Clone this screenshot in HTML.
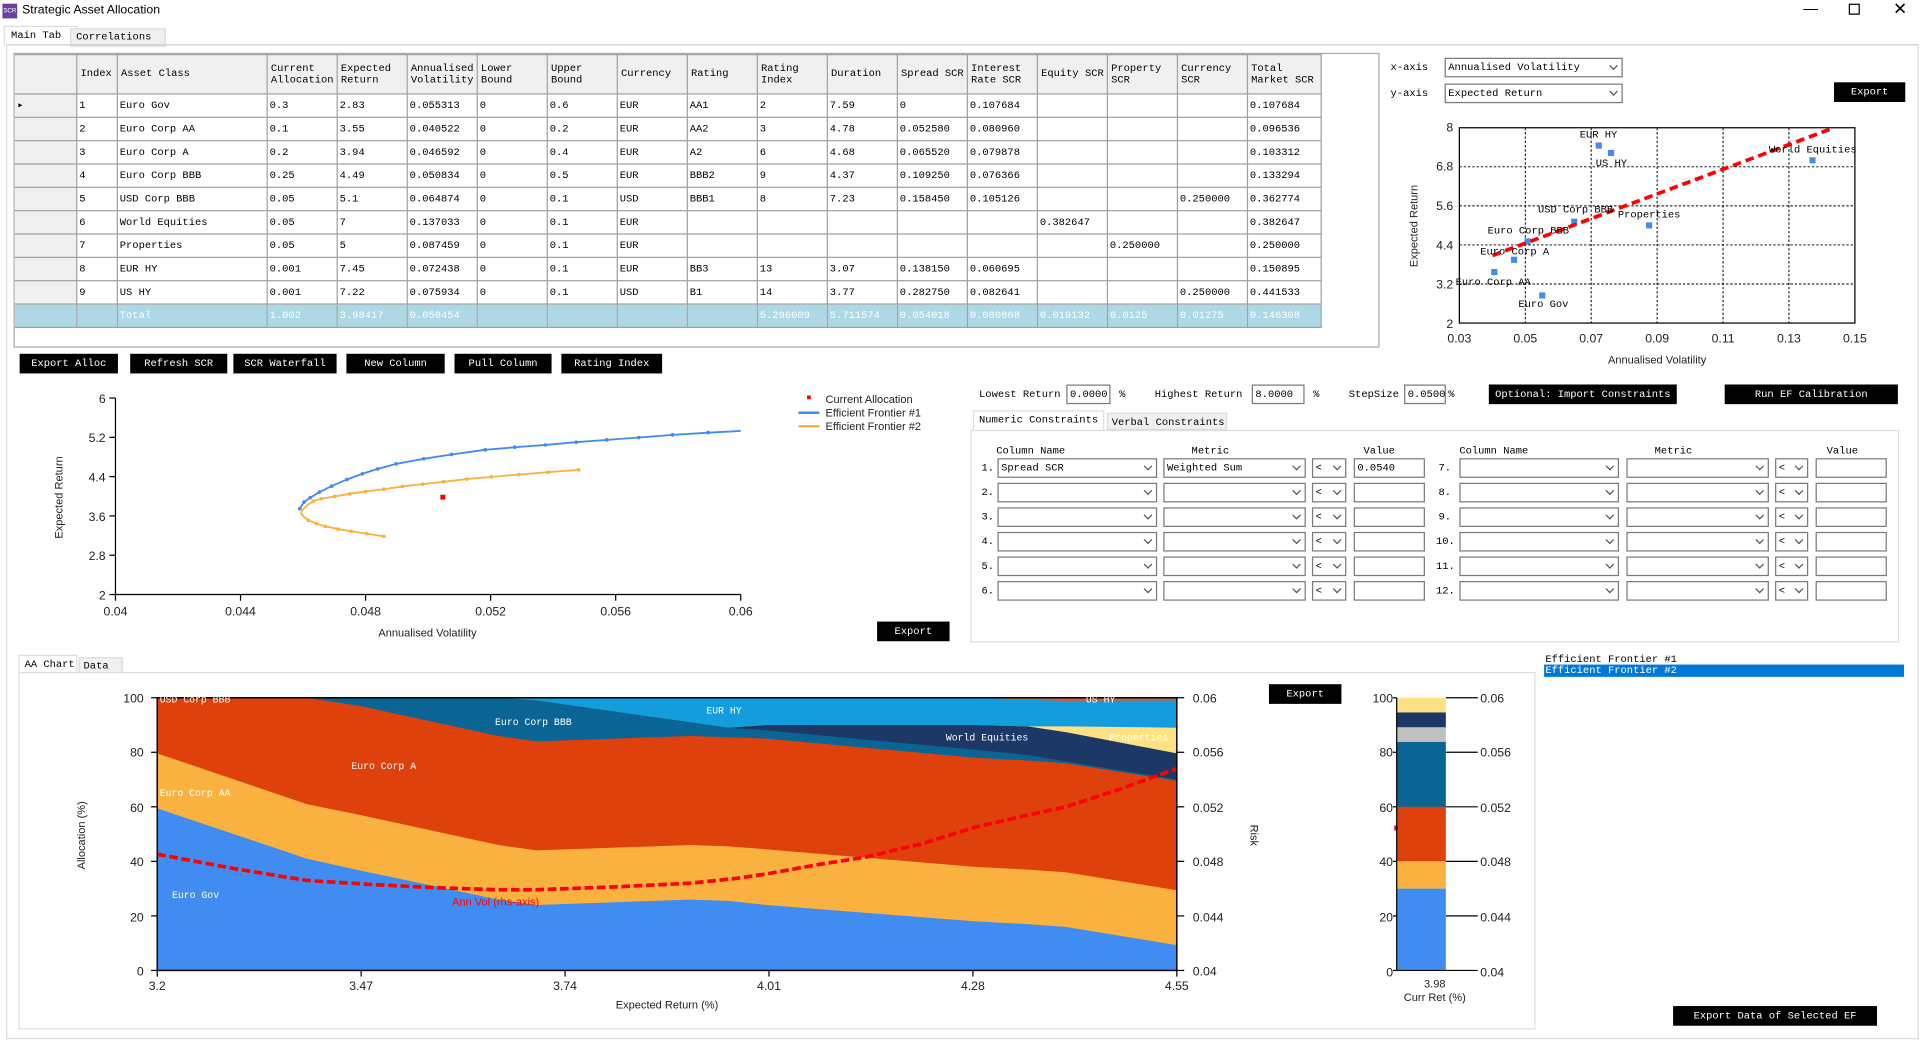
<!DOCTYPE html>
<html><head><meta charset="utf-8">
<style>
html,body{margin:0;padding:0;background:#fff;overflow:hidden;width:1920px;height:1040px}
#w{position:absolute;left:0;top:0;width:1563px;height:847px;transform:scale(1.22841);transform-origin:0 0;font-family:"Liberation Mono","Noto Sans CJK SC",monospace;font-size:8.5px;color:#000}
.a{position:absolute}
.btn{position:absolute;background:#000;color:#fff;text-align:center;font-size:8.5px;line-height:16px;height:16px}
.box{position:absolute;background:#fff;border:1px solid #7a7a7a;box-sizing:border-box;height:16px;line-height:14px;padding-left:2px;font-size:8.5px}
.dd::after{content:"";position:absolute;right:4px;top:3px;width:4px;height:4px;border-right:1px solid #555;border-bottom:1px solid #555;transform:rotate(45deg)}
table{border-collapse:collapse;table-layout:fixed}
td{border:1px solid #a0a0a0;padding:0 0 0 2px;height:18px;white-space:nowrap;overflow:hidden;font-size:8.5px}
tr.h td{background:#f0f0f0;height:31px;line-height:9px;padding-left:3px;white-space:normal;word-break:break-word}
tr.t td{background:#add8e6;color:#fff}
td.rh{background:#f0f0f0;border-left:none}
svg text{font-family:"Liberation Sans",sans-serif}
svg .s text{font-family:"Liberation Mono",monospace}
</style></head><body><div id="w">
<!-- title bar -->
<div class="a" style="left:2px;top:3px;width:12px;height:12px;background:#6b3fa0;color:#fff;font-size:5px;line-height:12px;text-align:center;font-family:'Liberation Sans',sans-serif">SCR</div>
<div class="a" style="left:18px;top:3px;font-family:'Liberation Sans',sans-serif;font-size:10px">Strategic Asset Allocation</div>
<div class="a" style="left:1468px;top:0px;font-family:'Liberation Sans',sans-serif;font-size:12px">&#8212;</div>
<div class="a" style="left:1505px;top:3px;width:7px;height:7px;border:1px solid #000"></div>
<div class="a" style="left:1541px;top:-1px;font-family:'Liberation Sans',sans-serif;font-size:14px">&#10005;</div>
<!-- tabs -->
<div class="a" style="left:3px;top:21px;width:53px;height:16px;border:1px solid #ddd;border-bottom:none;background:#fff;padding-left:5px;line-height:14px">Main Tab</div>
<div class="a" style="left:57px;top:23px;width:72px;height:13px;border:1px solid #ddd;background:#f0f0f0;padding-left:4px;line-height:13px">Correlations</div>
<div class="a" style="left:5px;top:36px;width:1555px;height:808px;border:1px solid #ddd;border-top:1px solid #ccc"></div>
<!-- table -->
<div class="a" style="left:11px;top:43px;width:1110px;height:238px;border:1px solid #aaa"></div>
<table class="a" style="left:12px;top:44px;width:1063px">
<colgroup><col style="width:50px"><col style="width:33px"><col style="width:122px"><col span="14" style="width:57px"><col style="width:60px"></colgroup>
<tr class="h"><td class="rh"></td><td>Index</td><td>Asset Class</td><td>Current Allocation</td><td>Expected Return</td><td>Annualised Volatility</td><td>Lower Bound</td><td>Upper Bound</td><td>Currency</td><td>Rating</td><td>Rating Index</td><td>Duration</td><td>Spread SCR</td><td>Interest Rate SCR</td><td>Equity SCR</td><td>Property SCR</td><td>Currency SCR</td><td>Total Market SCR</td></tr>
<tr><td class="rh">&#9656;</td><td>1</td><td>Euro Gov</td><td>0.3</td><td>2.83</td><td>0.055313</td><td>0</td><td>0.6</td><td>EUR</td><td>AA1</td><td>2</td><td>7.59</td><td>0</td><td>0.107684</td><td></td><td></td><td></td><td>0.107684</td></tr>
<tr><td class="rh"></td><td>2</td><td>Euro Corp AA</td><td>0.1</td><td>3.55</td><td>0.040522</td><td>0</td><td>0.2</td><td>EUR</td><td>AA2</td><td>3</td><td>4.78</td><td>0.052580</td><td>0.080960</td><td></td><td></td><td></td><td>0.096536</td></tr>
<tr><td class="rh"></td><td>3</td><td>Euro Corp A</td><td>0.2</td><td>3.94</td><td>0.046592</td><td>0</td><td>0.4</td><td>EUR</td><td>A2</td><td>6</td><td>4.68</td><td>0.065520</td><td>0.079878</td><td></td><td></td><td></td><td>0.103312</td></tr>
<tr><td class="rh"></td><td>4</td><td>Euro Corp BBB</td><td>0.25</td><td>4.49</td><td>0.050834</td><td>0</td><td>0.5</td><td>EUR</td><td>BBB2</td><td>9</td><td>4.37</td><td>0.109250</td><td>0.076366</td><td></td><td></td><td></td><td>0.133294</td></tr>
<tr><td class="rh"></td><td>5</td><td>USD Corp BBB</td><td>0.05</td><td>5.1</td><td>0.064874</td><td>0</td><td>0.1</td><td>USD</td><td>BBB1</td><td>8</td><td>7.23</td><td>0.158450</td><td>0.105126</td><td></td><td></td><td>0.250000</td><td>0.362774</td></tr>
<tr><td class="rh"></td><td>6</td><td>World Equities</td><td>0.05</td><td>7</td><td>0.137033</td><td>0</td><td>0.1</td><td>EUR</td><td></td><td></td><td></td><td></td><td></td><td>0.382647</td><td></td><td></td><td>0.382647</td></tr>
<tr><td class="rh"></td><td>7</td><td>Properties</td><td>0.05</td><td>5</td><td>0.087459</td><td>0</td><td>0.1</td><td>EUR</td><td></td><td></td><td></td><td></td><td></td><td></td><td>0.250000</td><td></td><td>0.250000</td></tr>
<tr><td class="rh"></td><td>8</td><td>EUR HY</td><td>0.001</td><td>7.45</td><td>0.072438</td><td>0</td><td>0.1</td><td>EUR</td><td>BB3</td><td>13</td><td>3.07</td><td>0.138150</td><td>0.060695</td><td></td><td></td><td></td><td>0.150895</td></tr>
<tr><td class="rh"></td><td>9</td><td>US HY</td><td>0.001</td><td>7.22</td><td>0.075934</td><td>0</td><td>0.1</td><td>USD</td><td>B1</td><td>14</td><td>3.77</td><td>0.282750</td><td>0.082641</td><td></td><td></td><td>0.250000</td><td>0.441533</td></tr>
<tr class="t"><td class="rh" style="background:#add8e6"></td><td></td><td>Total</td><td>1.002</td><td>3.98417</td><td>0.050454</td><td></td><td></td><td></td><td></td><td>5.296009</td><td>5.711574</td><td>0.054018</td><td>0.080868</td><td>0.019132</td><td>0.0125</td><td>0.01275</td><td>0.146308</td></tr>
</table>
<!-- buttons -->
<div class="btn" style="left:16px;top:288px;width:80px">Export Alloc</div>
<div class="btn" style="left:106px;top:288px;width:79px">Refresh SCR</div>
<div class="btn" style="left:190px;top:288px;width:84px">SCR Waterfall</div>
<div class="btn" style="left:282px;top:288px;width:80px">New Column</div>
<div class="btn" style="left:370px;top:288px;width:79px">Pull Column</div>
<div class="btn" style="left:457px;top:288px;width:82px">Rating Index</div>
<!-- scatter controls -->
<div class="a" style="left:1132px;top:50px">x-axis</div>
<div class="a" style="left:1132px;top:71px">y-axis</div>
<div class="box dd" style="left:1176px;top:47px;width:145px">Annualised Volatility</div>
<div class="box dd" style="left:1176px;top:68px;width:145px">Expected Return</div>
<div class="btn" style="left:1493px;top:67px;width:58px">Export</div>
<!-- constraints -->
<div class="a" style="left:797px;top:316px">Lowest Return</div>
<div class="box" style="left:868px;top:313px;width:36px">0.0000</div><div class="a" style="left:911px;top:316px">%</div>
<div class="a" style="left:940px;top:316px">Highest Return</div>
<div class="box" style="left:1019px;top:313px;width:43px">8.0000</div><div class="a" style="left:1069px;top:316px">%</div>
<div class="a" style="left:1098px;top:316px">StepSize</div>
<div class="box" style="left:1143px;top:313px;width:34px">0.0500</div><div class="a" style="left:1179px;top:316px">%</div>
<div class="btn" style="left:1212px;top:313px;width:153px">Optional: Import Constraints</div>
<div class="btn" style="left:1404px;top:313px;width:141px">Run EF Calibration</div>
<div class="a" style="left:792px;top:334px;width:107px;height:16px;background:#fff;border:1px solid #ddd;border-bottom:none;padding-left:4px;line-height:15px;box-sizing:border-box">Numeric Constraints</div>
<div class="a" style="left:901px;top:336px;width:98px;height:14px;background:#f0f0f0;border:1px solid #ddd;padding-left:3px;line-height:14px;box-sizing:border-box">Verbal Constraints</div>
<div class="a" style="left:790px;top:350px;width:756px;height:173px;border:1px solid #ddd;box-sizing:border-box"></div>
<div class="a" style="left:811px;top:362px">Column Name</div><div class="a" style="left:970px;top:362px">Metric</div><div class="a" style="left:1110px;top:362px">Value</div>
<div class="a" style="left:1188px;top:362px">Column Name</div><div class="a" style="left:1347px;top:362px">Metric</div><div class="a" style="left:1487px;top:362px">Value</div>
<!-- listbox -->
<div class="a" style="left:1258px;top:532px">Efficient Frontier #1</div>
<div class="a" style="left:1257px;top:541px;width:292px;height:10px;background:#0078d7;color:#fff;line-height:10px;padding-left:1px">Efficient Frontier #2</div>
<div class="btn" style="left:1362px;top:819px;width:166px">Export Data of Selected EF</div>
<!-- bottom tabs -->
<div class="a" style="left:15px;top:533px;width:48px;height:14px;border:1px solid #ddd;border-bottom:none;background:#fff;padding-left:4px;line-height:14px;box-sizing:border-box">AA Chart</div>
<div class="a" style="left:64px;top:535px;width:36px;height:13px;border:1px solid #ddd;background:#f0f0f0;padding-left:3px;line-height:13px;box-sizing:border-box">Data</div>
<div class="a" style="left:15px;top:547px;width:1235px;height:291px;border:1px solid #ddd;box-sizing:border-box"></div>
<div class="btn" style="left:1033px;top:557px;width:59px">Export</div>
<div class="btn" style="left:714px;top:506px;width:59px">Export</div>

<svg class="a" style="left:0;top:0" width="1563" height="847" font-size="10">
<!-- scatter -->
<g stroke="#000" stroke-dasharray="2,1.5" stroke-width="0.8">
<line x1="1241.7" y1="104" x2="1241.7" y2="263"/><line x1="1295.3" y1="104" x2="1295.3" y2="263"/><line x1="1349" y1="104" x2="1349" y2="263"/><line x1="1402.7" y1="104" x2="1402.7" y2="263"/><line x1="1456.3" y1="104" x2="1456.3" y2="263"/>
<line x1="1188" y1="231.2" x2="1510" y2="231.2"/><line x1="1188" y1="199.4" x2="1510" y2="199.4"/><line x1="1188" y1="167.6" x2="1510" y2="167.6"/><line x1="1188" y1="135.8" x2="1510" y2="135.8"/>
</g>
<rect x="1188" y="104" width="322" height="159" fill="none" stroke="#000" stroke-width="1"/>
<g fill="#418cf0">
<rect x="1299" y="116" width="5" height="5"/><rect x="1309" y="122" width="5" height="5"/><rect x="1473" y="128" width="5" height="5"/><rect x="1340" y="181" width="5" height="5"/><rect x="1279" y="178" width="5" height="5"/><rect x="1241" y="194" width="5" height="5"/><rect x="1230" y="209" width="5" height="5"/><rect x="1214" y="219" width="5" height="5"/><rect x="1253" y="238" width="5" height="5"/>
</g>
<line x1="1215" y1="208" x2="1493" y2="104" stroke="#f00" stroke-width="3" stroke-dasharray="7,4"/>
<g class="s" font-size="8.5">
<text x="1286" y="112">EUR HY</text><text x="1299" y="135">US HY</text><text x="1440" y="124">World Equities</text><text x="1317" y="177">Properties</text><text x="1252" y="173">USD Corp BBB</text><text x="1211" y="190">Euro Corp BBB</text><text x="1205" y="207">Euro Corp A</text><text x="1185" y="232">Euro Corp AA</text><text x="1236" y="250">Euro Gov</text>
</g>
<g font-size="10" text-anchor="end" fill="#222"><text x="1183" y="107">8</text><text x="1183" y="139">6.8</text><text x="1183" y="171">5.6</text><text x="1183" y="203">4.4</text><text x="1183" y="235">3.2</text><text x="1183" y="267">2</text></g>
<g font-size="10" text-anchor="middle" fill="#222"><text x="1188" y="279">0.03</text><text x="1241.7" y="279">0.05</text><text x="1295.3" y="279">0.07</text><text x="1349" y="279">0.09</text><text x="1402.7" y="279">0.11</text><text x="1456.3" y="279">0.13</text><text x="1510" y="279">0.15</text>
<text x="1349" y="296" font-size="9">Annualised Volatility</text>
<text transform="translate(1154,184) rotate(-90)" font-size="9">Expected Return</text></g>

<!-- frontier chart -->
<g stroke="#000" stroke-width="1"><line x1="94" y1="324" x2="94" y2="484"/><line x1="94" y1="484" x2="603" y2="484"/>
<line x1="89" y1="324" x2="94" y2="324"/><line x1="89" y1="356" x2="94" y2="356"/><line x1="89" y1="388" x2="94" y2="388"/><line x1="89" y1="420" x2="94" y2="420"/><line x1="89" y1="452" x2="94" y2="452"/><line x1="89" y1="484" x2="94" y2="484"/>
<line x1="94" y1="484" x2="94" y2="489"/><line x1="195.8" y1="484" x2="195.8" y2="489"/><line x1="297.6" y1="484" x2="297.6" y2="489"/><line x1="399.4" y1="484" x2="399.4" y2="489"/><line x1="501.2" y1="484" x2="501.2" y2="489"/><line x1="603" y1="484" x2="603" y2="489"/></g>
<g font-size="10" text-anchor="end" fill="#222"><text x="86" y="328">6</text><text x="86" y="360">5.2</text><text x="86" y="392">4.4</text><text x="86" y="424">3.6</text><text x="86" y="456">2.8</text><text x="86" y="488">2</text></g>
<g font-size="10" text-anchor="middle" fill="#222"><text x="94" y="501">0.04</text><text x="195.8" y="501">0.044</text><text x="297.6" y="501">0.048</text><text x="399.4" y="501">0.052</text><text x="501.2" y="501">0.056</text><text x="603" y="501">0.06</text>
<text x="348" y="518" font-size="9">Annualised Volatility</text>
<text transform="translate(51,405) rotate(-90)" font-size="9">Expected Return</text></g>
<polyline fill="none" stroke="#418cf0" stroke-width="1.5" points="244,414.1 247.5,408.7 252.5,405.2 260,400.6 270,395.7 282.5,390.3 295,385.7 307.5,381.7 322.5,377.6 345,373.5 367.5,370 395,366.2 419,364.1 444,362.2 469,360 494,358.1 520,356.2 547.5,354 576.5,352.2 603,350.8"/>
<polyline fill="none" stroke="#f9b23f" stroke-width="1.5" points="312.5,436.6 298.5,434.4 286,432.5 275,430.7 265,428.5 257.5,426.3 251,423.6 247.5,420.9 245,417.7 246.5,414.7 250,411.4 255,407.9 261.5,406 272.5,404.1 285,402 297.5,400.1 312.5,398.2 327.5,396 344,394.1 361,392.2 380,390 400,388.2 422.5,386.3 446,384.4 471,382.5"/>
<g fill="#418cf0"><circle cx="244" cy="414.1" r="1.5"/><circle cx="247.5" cy="408.7" r="1.5"/><circle cx="252.5" cy="405.2" r="1.5"/><circle cx="260" cy="400.6" r="1.5"/><circle cx="270" cy="395.7" r="1.5"/><circle cx="282.5" cy="390.3" r="1.5"/><circle cx="295" cy="385.7" r="1.5"/><circle cx="307.5" cy="381.7" r="1.5"/><circle cx="322.5" cy="377.6" r="1.5"/><circle cx="345" cy="373.5" r="1.5"/><circle cx="367.5" cy="370" r="1.5"/><circle cx="395" cy="366.2" r="1.5"/><circle cx="419" cy="364.1" r="1.5"/><circle cx="444" cy="362.2" r="1.5"/><circle cx="469" cy="360" r="1.5"/><circle cx="494" cy="358.1" r="1.5"/><circle cx="520" cy="356.2" r="1.5"/><circle cx="547.5" cy="354" r="1.5"/><circle cx="576.5" cy="352.2" r="1.5"/></g>
<g fill="#f9b23f"><circle cx="312.5" cy="436.6" r="1.5"/><circle cx="298.5" cy="434.4" r="1.5"/><circle cx="286" cy="432.5" r="1.5"/><circle cx="275" cy="430.7" r="1.5"/><circle cx="265" cy="428.5" r="1.5"/><circle cx="257.5" cy="426.3" r="1.5"/><circle cx="251" cy="423.6" r="1.5"/><circle cx="255" cy="407.9" r="1.5"/><circle cx="261.5" cy="406" r="1.5"/><circle cx="272.5" cy="404.1" r="1.5"/><circle cx="285" cy="402" r="1.5"/><circle cx="297.5" cy="400.1" r="1.5"/><circle cx="312.5" cy="398.2" r="1.5"/><circle cx="327.5" cy="396" r="1.5"/><circle cx="344" cy="394.1" r="1.5"/><circle cx="361" cy="392.2" r="1.5"/><circle cx="380" cy="390" r="1.5"/><circle cx="400" cy="388.2" r="1.5"/><circle cx="422.5" cy="386.3" r="1.5"/><circle cx="446" cy="384.4" r="1.5"/><circle cx="471" cy="382.5" r="1.5"/></g>
<rect x="358.5" y="402.7" width="4" height="4" fill="#f00"/>
<rect x="657" y="322" width="3" height="3" fill="#f00"/>
<line x1="650" y1="336" x2="667" y2="336" stroke="#418cf0" stroke-width="2"/>
<line x1="650" y1="347" x2="667" y2="347" stroke="#f9b23f" stroke-width="2"/>
<g font-size="9" fill="#222"><text x="672" y="328">Current Allocation</text><text x="672" y="339">Efficient Frontier #1</text><text x="672" y="350">Efficient Frontier #2</text></g>

<!-- area chart -->
<rect x="128" y="568" width="830" height="222" fill="#c9603f"/>
<polygon fill="#149ddd" points="128,568 792.7,568 867.6,570.7 958,570.2 958,790 128,790"/>
<polygon fill="#fde283" points="128,568 405.7,568 436.9,570.2 561.7,588 593,592.4 624.2,590.2 792.7,590.2 836.4,591.3 867.6,591.3 958,592.4 958,790 128,790"/>
<polygon fill="#1b3866" points="128,568 405.7,568 436.9,570.2 561.7,588 593,592.4 624.2,590.2 792.7,590.2 836.4,591.3 867.6,596 958,613.3 958,790 128,790"/>
<polygon fill="#0a6494" points="128,568 405.7,568 436.9,570.2 561.7,588 593,592.4 624.2,594.6 792.7,610.2 836.4,614.6 867.6,619.9 958,634.6 958,790 128,790"/>
<polygon fill="#de410b" points="128,568 249.7,568 293.4,574.7 405.7,599.1 436.9,603.5 561.7,599.1 593,600.2 624.2,601.3 792.7,616.8 836.4,619.1 867.6,621.3 958,635.7 958,790 128,790"/>
<polygon fill="#f9b23f" points="128,613.3 249.7,654.6 293.4,663.5 405.7,687.9 436.9,692.3 561.7,687.9 593,689 624.2,691.4 792.7,705.6 836.4,707.9 867.6,710.1 958,724.7 958,790 128,790"/>
<polygon fill="#418cf0" points="128,658.1 249.7,699 293.4,708.7 405.7,732.3 436.9,736.7 561.7,732.3 593,733.4 624.2,736.7 792.7,750 836.4,752.3 867.6,754.5 958,769.4 958,790 128,790"/>
<polyline fill="none" stroke="#f00" stroke-width="3" stroke-dasharray="7,3" points="128,695.4 190,707 249.7,716.7 293.4,719.5 350,722.5 405.7,724.3 436.9,724.3 500,722 561.7,719 600,715 624.2,711.4 665,704 705.3,697.6 750,687 792.7,673.7 830,665 867.6,656.8 910,643 958,625.7"/>
<rect x="128" y="568" width="830" height="222" fill="none" stroke="#000" stroke-width="1.2"/>
<g stroke="#000"><line x1="123" y1="568" x2="128" y2="568"/><line x1="123" y1="612.4" x2="128" y2="612.4"/><line x1="123" y1="656.8" x2="128" y2="656.8"/><line x1="123" y1="701.2" x2="128" y2="701.2"/><line x1="123" y1="745.6" x2="128" y2="745.6"/><line x1="123" y1="790" x2="128" y2="790"/>
<line x1="958" y1="568" x2="964" y2="568"/><line x1="958" y1="612.4" x2="964" y2="612.4"/><line x1="958" y1="656.8" x2="964" y2="656.8"/><line x1="958" y1="701.2" x2="964" y2="701.2"/><line x1="958" y1="745.6" x2="964" y2="745.6"/><line x1="958" y1="790" x2="964" y2="790"/>
<line x1="128" y1="790" x2="128" y2="795"/><line x1="294" y1="790" x2="294" y2="795"/><line x1="460" y1="790" x2="460" y2="795"/><line x1="626" y1="790" x2="626" y2="795"/><line x1="792" y1="790" x2="792" y2="795"/><line x1="958" y1="790" x2="958" y2="795"/></g>
<g font-size="10" text-anchor="end" fill="#222"><text x="117" y="572">100</text><text x="117" y="616">80</text><text x="117" y="661">60</text><text x="117" y="705">40</text><text x="117" y="750">20</text><text x="117" y="794">0</text></g>
<g font-size="10" fill="#222"><text x="971" y="572">0.06</text><text x="971" y="616">0.056</text><text x="971" y="661">0.052</text><text x="971" y="705">0.048</text><text x="971" y="750">0.044</text><text x="971" y="794">0.04</text></g>
<g font-size="10" text-anchor="middle" fill="#222"><text x="128" y="806">3.2</text><text x="294" y="806">3.47</text><text x="460" y="806">3.74</text><text x="626" y="806">4.01</text><text x="792" y="806">4.28</text><text x="958" y="806">4.55</text>
<text x="543" y="821" font-size="9">Expected Return (%)</text>
<text transform="translate(69,680) rotate(-90)" font-size="9">Allocation (%)</text>
<text transform="translate(1018,680) rotate(90)" font-size="9">Risk</text></g>
<g class="s" fill="#fff" font-size="8">
<text x="130" y="572">USD Corp BBB</text><text x="403" y="590">Euro Corp BBB</text><text x="575" y="581">EUR HY</text><text x="884" y="572">US HY</text><text x="770" y="603">World Equities</text><text x="903" y="603">Properties</text><text x="286" y="626">Euro Corp A</text><text x="130" y="648">Euro Corp AA</text><text x="140" y="731">Euro Gov</text></g>
<text x="368" y="737" fill="#f00" font-size="9">Ann Vol (rhs-axis)</text>

<!-- bar chart -->
<rect x="1137" y="568" width="40" height="13" fill="#fde283"/>
<rect x="1137" y="580" width="40" height="13" fill="#1b3866"/>
<rect x="1137" y="592" width="40" height="13" fill="#c0c0c0"/>
<rect x="1137" y="604" width="40" height="53" fill="#0a6494"/>
<rect x="1137" y="656.8" width="40" height="44.4" fill="#de410b"/>
<rect x="1137" y="701.2" width="40" height="22.2" fill="#f9b23f"/>
<rect x="1137" y="723.4" width="40" height="66.6" fill="#418cf0"/>
<rect x="1135" y="672" width="3" height="4" fill="#f00"/>
<g stroke="#000"><line x1="1137" y1="568" x2="1137" y2="790"/><line x1="1134" y1="568" x2="1137" y2="568"/><line x1="1134" y1="612.4" x2="1137" y2="612.4"/><line x1="1134" y1="656.8" x2="1137" y2="656.8"/><line x1="1134" y1="701.2" x2="1137" y2="701.2"/><line x1="1134" y1="745.6" x2="1137" y2="745.6"/><line x1="1134" y1="790" x2="1137" y2="790"/>
<line x1="1137" y1="790" x2="1203" y2="790"/><line x1="1177" y1="568" x2="1203" y2="568"/><line x1="1177" y1="612.4" x2="1203" y2="612.4"/><line x1="1177" y1="656.8" x2="1203" y2="656.8"/><line x1="1177" y1="701.2" x2="1203" y2="701.2"/><line x1="1177" y1="745.6" x2="1203" y2="745.6"/></g>
<g font-size="10" text-anchor="end" fill="#222"><text x="1134" y="572">100</text><text x="1134" y="616">80</text><text x="1134" y="661">60</text><text x="1134" y="705">40</text><text x="1134" y="750">20</text><text x="1134" y="795">0</text></g>
<g font-size="10" fill="#222"><text x="1205" y="572">0.06</text><text x="1205" y="616">0.056</text><text x="1205" y="661">0.052</text><text x="1205" y="705">0.048</text><text x="1205" y="750">0.044</text><text x="1205" y="795">0.04</text>
<text x="1168" y="804" font-size="9" text-anchor="middle">3.98</text><text x="1168" y="815" font-size="9" text-anchor="middle">Curr Ret (%)</text></g>
</svg>

<!-- constraint rows -->
<div class="a" style="left:799px;top:376px">1.</div><div class="a" style="left:799px;top:396px">2.</div><div class="a" style="left:799px;top:416px">3.</div><div class="a" style="left:799px;top:436px">4.</div><div class="a" style="left:799px;top:456px">5.</div><div class="a" style="left:799px;top:476px">6.</div>
<div class="a" style="left:1171px;top:376px">7.</div><div class="a" style="left:1171px;top:396px">8.</div><div class="a" style="left:1171px;top:416px">9.</div><div class="a" style="left:1169px;top:436px">10.</div><div class="a" style="left:1169px;top:456px">11.</div><div class="a" style="left:1169px;top:476px">12.</div>

<div class="box dd" style="left:812px;top:373px;width:130px">Spread SCR</div><div class="box dd" style="left:947px;top:373px;width:116px">Weighted Sum</div><div class="box dd" style="left:1068px;top:373px;width:28px">&lt;</div><div class="box" style="left:1102px;top:373px;width:58px">0.0540</div>
<div class="box dd" style="left:812px;top:393px;width:130px"></div><div class="box dd" style="left:947px;top:393px;width:116px"></div><div class="box dd" style="left:1068px;top:393px;width:28px">&lt;</div><div class="box" style="left:1102px;top:393px;width:58px"></div>
<div class="box dd" style="left:812px;top:413px;width:130px"></div><div class="box dd" style="left:947px;top:413px;width:116px"></div><div class="box dd" style="left:1068px;top:413px;width:28px">&lt;</div><div class="box" style="left:1102px;top:413px;width:58px"></div>
<div class="box dd" style="left:812px;top:433px;width:130px"></div><div class="box dd" style="left:947px;top:433px;width:116px"></div><div class="box dd" style="left:1068px;top:433px;width:28px">&lt;</div><div class="box" style="left:1102px;top:433px;width:58px"></div>
<div class="box dd" style="left:812px;top:453px;width:130px"></div><div class="box dd" style="left:947px;top:453px;width:116px"></div><div class="box dd" style="left:1068px;top:453px;width:28px">&lt;</div><div class="box" style="left:1102px;top:453px;width:58px"></div>
<div class="box dd" style="left:812px;top:473px;width:130px"></div><div class="box dd" style="left:947px;top:473px;width:116px"></div><div class="box dd" style="left:1068px;top:473px;width:28px">&lt;</div><div class="box" style="left:1102px;top:473px;width:58px"></div>

<div class="box dd" style="left:1188px;top:373px;width:130px"></div><div class="box dd" style="left:1324px;top:373px;width:116px"></div><div class="box dd" style="left:1445px;top:373px;width:27px">&lt;</div><div class="box" style="left:1478px;top:373px;width:58px"></div>
<div class="box dd" style="left:1188px;top:393px;width:130px"></div><div class="box dd" style="left:1324px;top:393px;width:116px"></div><div class="box dd" style="left:1445px;top:393px;width:27px">&lt;</div><div class="box" style="left:1478px;top:393px;width:58px"></div>
<div class="box dd" style="left:1188px;top:413px;width:130px"></div><div class="box dd" style="left:1324px;top:413px;width:116px"></div><div class="box dd" style="left:1445px;top:413px;width:27px">&lt;</div><div class="box" style="left:1478px;top:413px;width:58px"></div>
<div class="box dd" style="left:1188px;top:433px;width:130px"></div><div class="box dd" style="left:1324px;top:433px;width:116px"></div><div class="box dd" style="left:1445px;top:433px;width:27px">&lt;</div><div class="box" style="left:1478px;top:433px;width:58px"></div>
<div class="box dd" style="left:1188px;top:453px;width:130px"></div><div class="box dd" style="left:1324px;top:453px;width:116px"></div><div class="box dd" style="left:1445px;top:453px;width:27px">&lt;</div><div class="box" style="left:1478px;top:453px;width:58px"></div>
<div class="box dd" style="left:1188px;top:473px;width:130px"></div><div class="box dd" style="left:1324px;top:473px;width:116px"></div><div class="box dd" style="left:1445px;top:473px;width:27px">&lt;</div><div class="box" style="left:1478px;top:473px;width:58px"></div>
</div></body></html>
